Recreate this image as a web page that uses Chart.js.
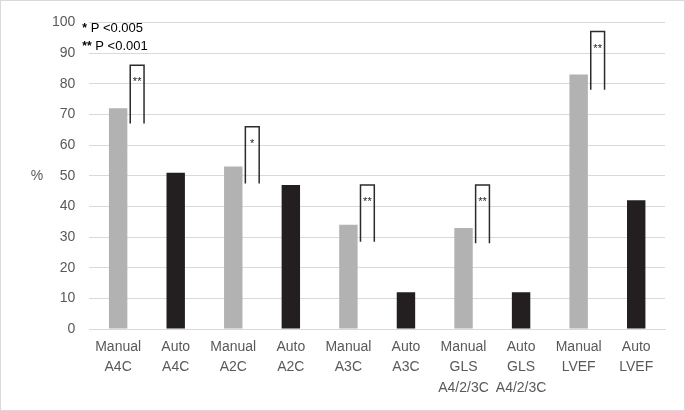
<!DOCTYPE html>
<html>
<head>
<meta charset="utf-8">
<script src="https://cdn.jsdelivr.net/npm/chart.js@4.4.1/dist/chart.umd.min.js"></script>
<style>
   html, body { margin: 0; padding: 0; background: #fff; }
   #wrap { width: 685px; height: 411px; position: relative; }
</style>
</head>
<body>
<div id="wrap"><canvas id="myChart"></canvas></div>
<script>
const labels = [
   ['Manual', 'A4C'],
   ['Auto', 'A4C'],
   ['Manual', 'A2C'],
   ['Auto', 'A2C'],
   ['Manual', 'A3C'],
   ['Auto', 'A3C'],
   ['Manual', 'GLS', 'A4/2/3C'],
   ['Auto', 'GLS', 'A4/2/3C'],
   ['Manual', 'LVEF'],
   ['Auto', 'LVEF'],
];
const values = [72, 51, 53, 47, 34, 12, 33, 12, 83, 42];

// significance brackets (sit just right of each manual bar)
const bracketIndex = [0, 2, 4, 6, 8];
const bracketLow = [67, 47.5, 28.5, 28, 78];
const bracketHigh = [86, 66, 47, 47, 97];
const sigMarks = ['**', '*', '**', '**', '**'];
const legendLines = [['*', ' P <0.005'], ['**', ' P <0.001']];

const gray = '#b2b2b2';
const black = '#231f20';
const font = '"Liberation Sans", Arial, sans-serif';

const extras = {
   id: 'extras',
   afterDatasetsDraw(chart) {
      const ctx = chart.ctx;
      const x = chart.scales.x;
      const y = chart.scales.y;
      const step = x.getPixelForValue(1) - x.getPixelForValue(0);
      ctx.save();
      ctx.strokeStyle = '#2b2b2b';
      ctx.lineWidth = 1.5;
      ctx.fillStyle = '#222';
      ctx.font = '11px ' + font;
      ctx.textAlign = 'center';
      ctx.textBaseline = 'middle';
      bracketIndex.forEach((idx, i) => {
         const x0 = x.getPixelForValue(idx) + 0.21 * step;
         const x1 = x.getPixelForValue(idx) + 0.45 * step;
         const yLo = y.getPixelForValue(bracketLow[i]);
         const yHi = y.getPixelForValue(bracketHigh[i]);
         ctx.beginPath();
         ctx.moveTo(x0, yLo);
         ctx.lineTo(x0, yHi);
         ctx.lineTo(x1, yHi);
         ctx.lineTo(x1, yLo);
         ctx.stroke();
         ctx.fillText(sigMarks[i], (x0 + x1) / 2, yHi + 17);
      });
      // y axis unit, upright
      ctx.fillStyle = '#595959';
      ctx.font = '14px ' + font;
      ctx.fillText('%', 37, (chart.chartArea.top + chart.chartArea.bottom) / 2);
      // p-value key, top left
      ctx.textAlign = 'left';
      ctx.fillStyle = '#000';
      legendLines.forEach((ln, i) => {
         const ty = chart.chartArea.top + 6 + i * 18;
         let tx = chart.chartArea.left - 7;
         ctx.font = 'bold 12px ' + font;
         ctx.fillText(ln[0], tx, ty);
         tx += ctx.measureText(ln[0]).width;
         ctx.font = '13px ' + font;
         ctx.fillText(ln[1], tx, ty);
      });
      // outer frame
      ctx.strokeStyle = '#d9d9d9';
      ctx.lineWidth = 1;
      ctx.strokeRect(0.5, 0.5, chart.width - 1, chart.height - 1);
      ctx.restore();
   }
};

const data = {
   labels: labels,
   datasets: [
      {
         label: '%',
         data: values,
         backgroundColor: values.map((v, i) => (i % 2 === 0 ? gray : black)),
         barPercentage: 0.32,
         categoryPercentage: 1,
      },
   ],
};

const config = {
   type: 'bar',
   data: data,
   options: {
      responsive: true,
      maintainAspectRatio: false,
      animation: false,
      layout: { padding: { left: 38, right: 20, top: 14, bottom: 5 } },
      plugins: {
         legend: { display: false },
         tooltip: { enabled: false },
      },
      scales: {
         x: {
            grid: { display: false, drawTicks: false },
            border: { color: '#d9d9d9' },
            ticks: {
               color: '#595959',
               padding: 8,
               maxRotation: 0,
               autoSkip: false,
               font: { family: font, size: 14, lineHeight: 1.45 },
            },
         },
         y: {
            min: 0,
            max: 100,
            grid: { color: '#d9d9d9', drawTicks: false },
            border: { display: false },
            ticks: {
               stepSize: 10,
               color: '#595959',
               padding: 14,
               font: { family: font, size: 14 },
            },
         },
      },
   },
   plugins: [extras],
};
const myChart = new Chart(document.getElementById('myChart'), config);
</script>
</body>
</html>
